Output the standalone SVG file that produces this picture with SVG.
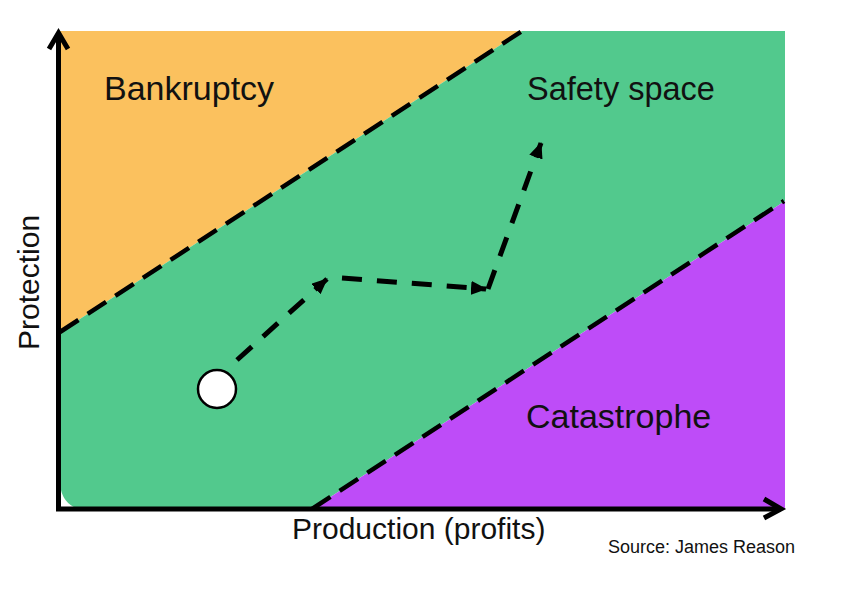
<svg xmlns="http://www.w3.org/2000/svg" width="851" height="607" viewBox="0 0 851 607">
  <style>
    .lbl { font-family: "Liberation Sans", Arial, sans-serif; fill: #111; }
    .big { font-size: 34px; }
    .axis { stroke: #000; stroke-width: 5; fill: none; }
    .bound { stroke: #000; stroke-width: 4.5; stroke-dasharray: 22 11; fill: none; }
    .move { stroke: #000; stroke-width: 5; stroke-dasharray: 20 15; fill: none; }
  </style>
  <defs>
    <marker id="tri" markerUnits="userSpaceOnUse" markerWidth="16" markerHeight="14" refX="15" refY="7" orient="auto">
      <path d="M0,0 L16,7 L0,14 Z" fill="#000"/>
    </marker>
  </defs>
  <rect width="851" height="607" fill="#fff"/>

  <g id="bankruptcy">
    <polygon points="60,31 522,31 60,332" fill="#FBC15E"/>
    <text class="lbl big" x="104" y="100">Bankruptcy</text>
  </g>
  <g id="safety-space">
    <path d="M60,332 L522,31 L785,31 L785,201 L312,509 L78,509 Q62,503 60,485 Z" fill="#52C98D"/>
    <text class="lbl" x="527" y="100" font-size="32.5">Safety space</text>
  </g>
  <g id="catastrophe">
    <polygon points="312,509 785,201 785,509" fill="#BE4CF8"/>
    <text class="lbl big" x="526" y="428" font-size="34">Catastrophe</text>
  </g>

  <g id="boundaries">
    <line class="bound" x1="60" y1="332" x2="522" y2="31"/>
    <line class="bound" x1="312" y1="509" x2="784" y2="201"/>
  </g>

  <g id="state">
    <circle cx="217" cy="389" r="19" fill="#fff" stroke="#000" stroke-width="2.5"/>
  </g>

  <g id="connectors">
    <line class="move" x1="237" y1="360" x2="327" y2="279" marker-end="url(#tri)"/>
    <line class="move" x1="342" y1="278" x2="486" y2="289" marker-end="url(#tri)"/>
    <line class="move" x1="488" y1="289" x2="541" y2="143" marker-end="url(#tri)"/>
  </g>

  <g id="axes">
    <polyline class="axis" points="58.5,33 58.5,509 781,509"/>
    <polyline class="axis" points="49,49 58.5,33 68,49"/>
    <polyline class="axis" points="764,499 781,509 764,518"/>
  </g>

  <g id="axis-labels">
    <text class="lbl" x="292" y="539" font-size="30">Production (profits)</text>
    <text class="lbl" transform="translate(39,350) rotate(-90)" font-size="30">Protection</text>
    <text class="lbl" x="608" y="553" font-size="18">Source: James Reason</text>
  </g>
</svg>
